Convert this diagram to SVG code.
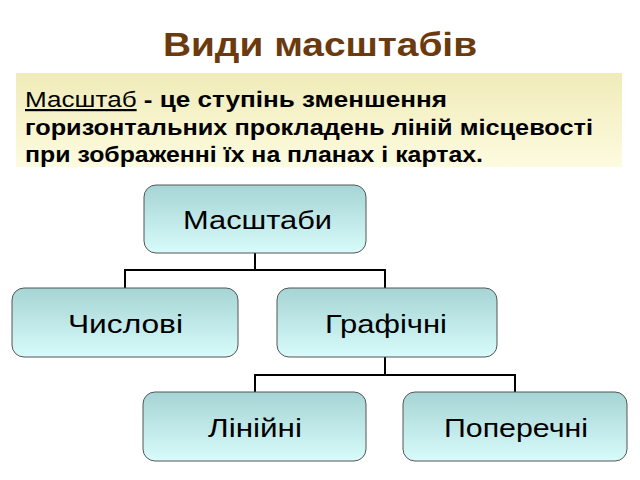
<svg xmlns="http://www.w3.org/2000/svg" width="640" height="480" viewBox="0 0 640 480">
<defs>
<linearGradient id="g" x1="0" y1="0" x2="0" y2="1"><stop offset="0" stop-color="#a6d4d4"/><stop offset="1" stop-color="#d8fbfb"/></linearGradient>
<linearGradient id="y" x1="0" y1="0" x2="0" y2="1"><stop offset="0" stop-color="#f0ebb8"/><stop offset="1" stop-color="#fdfbe0"/></linearGradient>
</defs>
<style>
.n{fill:url(#g);stroke:#555;stroke-width:1}
.t{font-family:"Liberation Sans",Arial,sans-serif;font-size:25px;fill:#000}
.c{fill:none;stroke:#000;stroke-width:2}
.p{font-family:"Liberation Sans",Arial,sans-serif;font-size:22px;font-weight:bold;fill:#000}
</style>
<rect width="640" height="480" fill="#fff"/>
<text x="163" y="56" textLength="314" lengthAdjust="spacingAndGlyphs" font-family="Liberation Sans,Arial,sans-serif" font-size="34" font-weight="bold" fill="#6b3a0e">Види масштабів</text>
<rect x="16" y="73" width="606" height="94" fill="url(#y)"/>
<text class="p" x="25" y="107" textLength="422" lengthAdjust="spacingAndGlyphs"><tspan font-weight="normal" text-decoration="underline">Масштаб</tspan> - це ступінь зменшення</text>
<text class="p" x="25" y="135" textLength="568" lengthAdjust="spacingAndGlyphs">горизонтальних прокладень ліній місцевості</text>
<text class="p" x="25" y="162" textLength="458" lengthAdjust="spacingAndGlyphs">при зображенні їх на планах і картах.</text>
<g id="connectors">
<path class="c" d="M255 253V270M125 288V270H385V288"/>
<path class="c" d="M385 357V375M255 392V375H515V392"/>
</g>
<g id="n1"><rect class="n" x="144" y="185" width="222" height="68" rx="12"/><text class="t" x="183" y="229" textLength="149" lengthAdjust="spacingAndGlyphs">Масштаби</text></g>
<g id="n2"><rect class="n" x="12" y="288" width="226" height="69" rx="12"/><text class="t" x="68" y="333" textLength="115" lengthAdjust="spacingAndGlyphs">Числові</text></g>
<g id="n3"><rect class="n" x="277" y="288" width="220" height="69" rx="12"/><text class="t" x="325" y="333" textLength="122" lengthAdjust="spacingAndGlyphs">Графічні</text></g>
<g id="n4"><rect class="n" x="143" y="392" width="223" height="69" rx="12"/><text class="t" x="208" y="437" textLength="94" lengthAdjust="spacingAndGlyphs">Лінійні</text></g>
<g id="n5"><rect class="n" x="403" y="392" width="224" height="69" rx="12"/><text class="t" x="444" y="437" textLength="144" lengthAdjust="spacingAndGlyphs">Поперечні</text></g>
</svg>
